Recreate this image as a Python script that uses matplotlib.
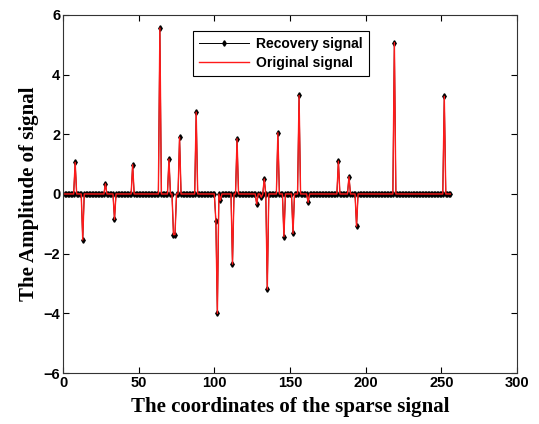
import numpy as np
import matplotlib
matplotlib.use("Agg")
import matplotlib.pyplot as plt

# sparse signal, length 256, nonzero entries
n = 256
spike_pos = [8, 13, 28, 34, 46, 64, 70, 73, 74, 77, 88, 101, 102, 104, 112, 115,
             128, 131, 133, 135, 142, 146, 152, 156, 162, 182, 189, 194, 219, 252]
spike_amp = [1.06, -1.54, 0.34, -0.85, 0.98, 5.56, 1.17, -1.36, -1.36, 1.90, 2.74,
             -0.90, -4.00, -0.21, -2.35, 1.85, -0.34, -0.11, 0.50, -3.19, 2.05,
             -1.43, -1.32, 3.30, -0.28, 1.10, 0.58, -1.08, 5.07, 3.27]

x = np.arange(1, n + 1)
original = np.zeros(n)
original[np.array(spike_pos) - 1] = spike_amp
recovery = original.copy()

fig = plt.figure(figsize=(5.39, 4.24), dpi=100)
ax = fig.add_axes([0.117, 0.12, 0.842, 0.845])

ax.plot(x, recovery, color="black", lw=0.7, marker="d", ms=2.8,
        mfc="black", mec="black", label="Recovery signal")
ax.plot(x, original, color="#ff1a1a", lw=1.0, label="Original signal")

ax.set_xlim(0, 300)
ax.set_ylim(-6, 6)
ax.set_xticks(range(0, 301, 50))
ax.set_yticks(range(-6, 7, 2))
ax.tick_params(direction="in", top=True, right=True, length=4, width=0.8,
               labelsize=10.5, pad=2)
for lab in ax.get_xticklabels() + ax.get_yticklabels():
    lab.set_fontfamily("Liberation Sans")
    lab.set_fontweight("bold")
for s in ax.spines.values():
    s.set_linewidth(0.8)
    s.set_color("#333333")

ax.set_xlabel("The coordinates of the sparse signal", fontfamily="Liberation Serif",
              fontweight="bold", fontsize=15, labelpad=5)
ax.set_ylabel("The Amplitude of signal", fontfamily="Liberation Serif",
              fontweight="bold", fontsize=15, labelpad=3)

leg = ax.legend(loc="upper left", bbox_to_anchor=(0.27, 0.975), fancybox=False,
                edgecolor="black", framealpha=1, borderpad=0.45, handlelength=3.6,
                labelspacing=0.35, handletextpad=0.5,
                prop={"family": "Liberation Sans", "weight": "bold", "size": 10})
leg.get_frame().set_linewidth(0.8)

fig.savefig("out.png", dpi=100)
